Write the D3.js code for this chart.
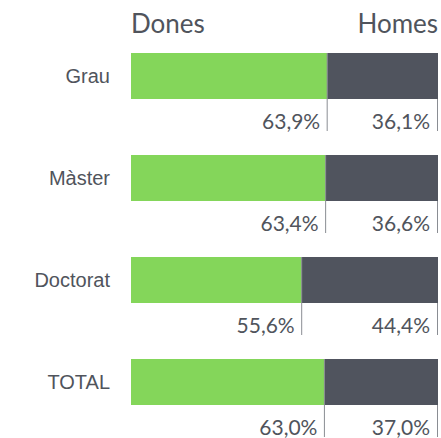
<!DOCTYPE html>
<html>
<head>
<meta charset="utf-8">
<script src="https://cdn.jsdelivr.net/npm/d3@7"></script>
<style>
  body { margin: 0; background: #fff; }
  text { fill: #50545c; }
</style>
</head>
<body>
<div class="container"></div>
<script>
// data
let categories = ['Grau', 'Màster', 'Doctorat', 'TOTAL'];
let dones = [63.9, 63.4, 55.6, 63.0];
let homes = [36.1, 36.6, 44.4, 37.0];
let series = ['Dones', 'Homes'];
let colors = ['#84d65a', '#50545e'];

let outerWidth = 441,
    outerHeight = 438;
let margin = {top: 53, right: 3, bottom: 0, left: 131};
let width = outerWidth - margin.left - margin.right;

let svg = d3.select('.container').append('svg')
  .attr('width', outerWidth)
  .attr('height', outerHeight);

let group = svg.append('g')
  .attr('transform', `translate(${margin.left},${margin.top})`);

let xScale = d3.scaleLinear()
  .domain([0, 100])
  .range([0, width]);

// step 102px, bars 46px tall
let yScale = d3.scaleBand()
  .domain(categories)
  .range([0, 102 * (categories.length - 1) + 46])
  .paddingInner(56 / 102)
  .paddingOuter(0);

let barH = yScale.bandwidth();
let fmt = v => v.toFixed(1).replace('.', ',') + '%';

let rows = categories.map((c, i) => ({cat: c, d: dones[i], h: homes[i]}));

// headers
group.append('text')
  .attr('x', 0).attr('y', -20)
  .style('font-family', 'Lato, sans-serif')
  .style('font-size', '26px')
  .text(series[0]);
group.append('text')
  .attr('x', width).attr('y', -20)
  .attr('text-anchor', 'end')
  .style('font-family', 'Lato, sans-serif')
  .style('font-size', '26px')
  .text(series[1]);

let row = group.selectAll('.row')
  .data(rows)
  .enter().append('g')
  .attr('class', 'row')
  .attr('transform', d => `translate(0,${yScale(d.cat)})`);

row.append('rect')
  .attr('x', 0).attr('y', 0)
  .attr('width', d => xScale(d.d))
  .attr('height', barH)
  .attr('fill', colors[0]);

row.append('rect')
  .attr('x', d => xScale(d.d)).attr('y', 0)
  .attr('width', d => xScale(d.d + d.h) - xScale(d.d))
  .attr('height', barH)
  .attr('fill', colors[1]);

// divider lines
row.append('line')
  .attr('x1', d => xScale(d.d)).attr('x2', d => xScale(d.d))
  .attr('y1', 0).attr('y2', 78)
  .attr('stroke', '#8a8d93').attr('stroke-width', 1);
row.append('line')
  .attr('x1', xScale(100) - 0.5).attr('x2', xScale(100) - 0.5)
  .attr('y1', barH).attr('y2', 78)
  .attr('stroke', '#8a8d93').attr('stroke-width', 1);

// category labels
row.append('text')
  .attr('x', -21).attr('y', barH / 2)
  .attr('dy', '0.35em')
  .attr('text-anchor', 'end')
  .style('font-family', '"Liberation Sans", Arial, sans-serif')
  .style('font-size', '20px')
  .text(d => d.cat);

// percentages
row.append('text')
  .attr('x', d => xScale(d.d) - 7).attr('y', 76)
  .attr('text-anchor', 'end')
  .style('font-family', 'Lato, sans-serif')
  .style('font-size', '21px')
  .text(d => fmt(d.d));
row.append('text')
  .attr('x', xScale(100) - 8).attr('y', 76)
  .attr('text-anchor', 'end')
  .style('font-family', 'Lato, sans-serif')
  .style('font-size', '21px')
  .text(d => fmt(d.h));
</script>
</body>
</html>
